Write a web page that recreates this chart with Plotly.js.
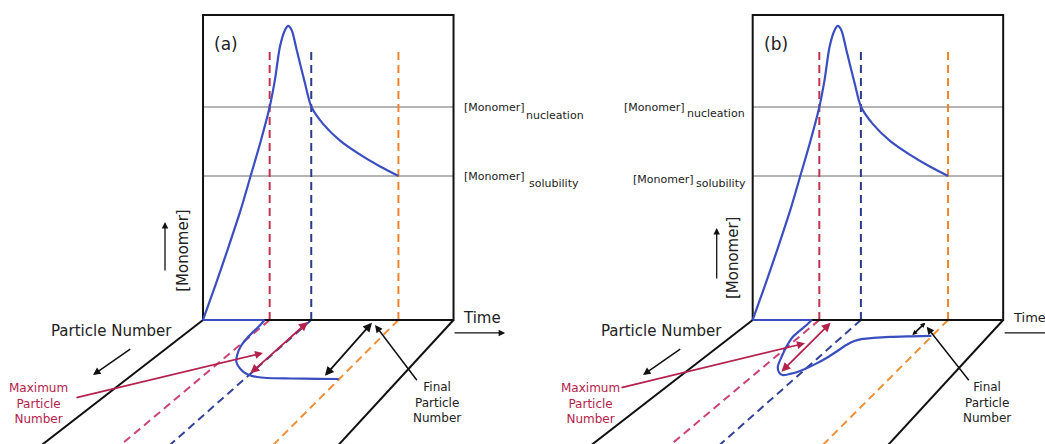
<!DOCTYPE html>
<html><head><meta charset="utf-8">
<script src="https://cdn.plot.ly/plotly-3.0.1.min.js"></script>
<style>html,body{margin:0;padding:0;background:#fff}#chart{width:1045px;height:444px}</style>
</head><body><div id="chart"></div>
<script>
// ================= DATA =================
// Monomer concentration vs time (box units: time 0..10, [Monomer] 0..10)
const monomerTime = [0, 0.5, 1.0, 1.5, 1.9, 2.3, 2.66, 2.87, 3.07, 3.27, 3.4, 3.54, 3.74, 4.07, 4.33, 4.8, 5.47, 6.27, 7.07, 7.8];
const monomerConc = [0, 1.15, 2.35, 3.6, 4.72, 5.85, 6.98, 7.87, 8.96, 9.5, 9.64, 9.5, 8.85, 7.76, 6.98, 6.42, 5.88, 5.42, 5.03, 4.72];
const monomerNucleation = 6.98;
const monomerSolubility = 4.72;
const dashTop = 8.85;
// event times: nucleation start, nucleation end, end of growth
const eventTimes = [2.66, 4.32, 7.8];
const eventColors = ['#c0344f', '#2e3a8c', '#f0842c'];
const floorEventColors = ['#cc4470', '#34429a', '#f0903a'];

// Particle number vs time on the floor (time, particle number 0..10)
const particleTimeA = [0, 2.45, 2.52, 2.56, 2.62, 2.75, 3.0, 3.3, 3.65, 4.0, 4.35, 4.7, 5.1, 6.0, 7.0, 7.78];
const particleNumA  = [0, 0, 0.35, 0.85, 1.45, 2.1, 2.8, 3.4, 3.85, 4.2, 4.45, 4.6, 4.68, 4.72, 4.75, 4.76];
const particleTimeB = [0, 2.36, 2.39, 2.41, 2.62, 2.89, 3.19, 3.5, 3.72, 3.95, 4.16, 4.33, 4.5, 4.64, 4.75, 4.85, 4.99, 5.22, 5.6, 6.2, 7.0, 7.77];
const particleNumB  = [0, 0, 0.4, 1.34, 2.15, 2.96, 3.77, 4.25, 4.44, 4.35, 4.17, 3.9, 3.5, 3.06, 2.56, 2.02, 1.7, 1.53, 1.45, 1.37, 1.32, 1.28];

// Max / final particle number markers (time, particle number) : [start, end]
const maxArrowA_t = [4.27, 4.3],  maxArrowA_n = [0.05, 4.3];
const finArrowA_t = [6.85, 7.15], finArrowA_n = [0.1, 4.5];
const maxArrowB_t = [3.23, 3.54], maxArrowB_n = [0.1, 4.17];
const finArrowB_t = [7.0, 7.0],   finArrowB_n = [0.1, 1.22];

// ================= PROJECTION (oblique floor) =================
const FLOOR_DEPTH = 4.066;
function fx(t, n) { return t + (n / 10) * (-6.387 + 0.183 * t); }
function fy(n) { return -(n / 10) * FLOOR_DEPTH; }

const FONT = 'DejaVu Sans, Verdana, sans-serif';
const CURVE = '#3a4ec0';
const CRIMSON = '#b4224c';

function panelTraces(xa, ya, pT, pN) {
  const tr = [];
  const L = (x, y, color, width, dash, shape) => tr.push({
    type: 'scatter', mode: 'lines', x: x, y: y, xaxis: xa, yaxis: ya,
    hoverinfo: 'skip',
    line: {color: color, width: width, dash: dash || 'solid', shape: shape || 'linear', smoothing: 0.8}
  });
  // level lines
  L([0, 10], [monomerNucleation, monomerNucleation], '#9c9c9c', 1.5);
  L([0, 10], [monomerSolubility, monomerSolubility], '#9c9c9c', 1.5);
  // floor side rails
  [0, 10].forEach(t => L([fx(t, 0), fx(t, 10.6)], [fy(0), fy(10.6)], '#111', 2));
  // event dashed lines (vertical + floor)
  eventTimes.forEach((t, i) => {
    L([t, t], [0, dashTop], eventColors[i], 2, '8px,5px');
    L([fx(t, 0), fx(t, 10.6)], [fy(0), fy(10.6)], floorEventColors[i], 2, '8px,5px');
  });
  // box
  L([0, 10, 10, 0, 0], [0, 0, 10, 10, 0], '#111', 2);
  // monomer curve
  L(monomerTime, monomerConc, CURVE, 2.2, 'solid', 'spline');
  // particle number curve on floor: flat part (no particles yet) + spline part
  const px = pT.map((t, i) => fx(t, pN[i])), py = pN.map(n => fy(n));
  L(px.slice(0, 2), py.slice(0, 2), CURVE, 2.2);
  L(px.slice(1), py.slice(1), CURVE, 2.2, 'solid', 'spline');
  return tr;
}

const traces = [].concat(
  panelTraces('x', 'y', particleTimeA, particleNumA),
  panelTraces('x2', 'y2', particleTimeB, particleNumB)
);

const ann = [];
function txt(xr, yr, x, y, text, size, opts) {
  ann.push(Object.assign({xref: xr, yref: yr, x: x, y: y, text: text, showarrow: false,
    xanchor: 'center', yanchor: 'middle', font: {family: FONT, size: size, color: '#222'}}, opts || {}));
}
function arr(xr, yr, x0, y0, x1, y1, color, width, both, size) {
  ann.push({xref: xr, yref: yr, axref: xr, ayref: yr, x: x1, y: y1, ax: x0, ay: y0, text: '',
    showarrow: true, arrowhead: 2, arrowsize: size || 1, arrowwidth: width, arrowcolor: color,
    arrowside: both ? 'end+start' : 'end', startarrowhead: 2, startarrowsize: size || 1,
    standoff: 0, startstandoff: 0});
}
function floorArrow(xr, yr, tt, nn, color, size) {
  arr(xr, yr, fx(tt[0], nn[0]), fy(nn[0]), fx(tt[1], nn[1]), fy(nn[1]), color, 1.8, true, size);
}

// ---- panel (a) ----
txt('x', 'y', 0.92, 9.05, '(a)', 17);
txt('x', 'y', 10.33, 6.95, '[Monomer]', 11, {xanchor: 'left'});
txt('x', 'y', 12.83, 6.70, 'nucleation', 11, {xanchor: 'left'});
txt('x', 'y', 10.35, 4.70, '[Monomer]', 11, {xanchor: 'left'});
txt('x', 'y', 12.92, 4.49, 'solubility', 11, {xanchor: 'left'});
txt('x', 'y', -0.80, 2.30, '[Monomer]', 15, {textangle: -90});
arr('x', 'y', -1.517, 1.574, -1.517, 3.213, '#111', 1.3);
txt('x', 'y', 10.29, 0.07, 'Time', 15, {xanchor: 'left'});
arr('x', 'y', 9.98, -0.426, 12.06, -0.426, '#111', 1.3);
txt('x', 'y', -3.653, -0.36, 'Particle Number', 15);
arr('x', 'y', -2.846, -0.918, -4.391, -1.803, '#111', 1.5);
txt('x', 'y', -6.587, -2.738, 'Maximum<br>Particle<br>Number', 12, {font: {family: FONT, size: 12, color: CRIMSON}});
arr('x', 'y', -5.11, -2.557, 2.395, -1.082, CRIMSON, 1.6);
txt('x', 'y', 9.341, -2.705, 'Final<br>Particle<br>Number', 12);
arr('x', 'y', 8.583, -2.023, 6.866, -0.164, '#111', 1.5);
floorArrow('x', 'y', maxArrowA_t, maxArrowA_n, CRIMSON);
floorArrow('x', 'y', finArrowA_t, finArrowA_n, '#111');

// ---- panel (b) ----
txt('x2', 'y2', 0.93, 9.05, '(b)', 17);
txt('x2', 'y2', -2.635, 6.967, '[Monomer]', 11, {xanchor: 'right'});
txt('x2', 'y2', -0.24, 6.754, 'nucleation', 11, {xanchor: 'right'});
txt('x2', 'y2', -2.263, 4.59, '[Monomer]', 11, {xanchor: 'right'});
txt('x2', 'y2', -0.188, 4.46, 'solubility', 11, {xanchor: 'right'});
txt('x2', 'y2', -0.786, 2.03, '[Monomer]', 15, {textangle: -90});
arr('x2', 'y2', -1.437, 1.311, -1.437, 3.016, '#111', 1.3);
txt('x2', 'y2', 10.33, 0.07, 'Time', 13, {xanchor: 'left'});
arr('x2', 'y2', 10.0, -0.426, 12.8, -0.426, '#111', 1.3);
txt('x2', 'y2', -3.64, -0.36, 'Particle Number', 15);
arr('x2', 'y2', -2.834, -0.918, -4.379, -1.803, '#111', 1.5);
txt('x2', 'y2', -6.495, -2.738, 'Maximum<br>Particle<br>Number', 12, {font: {family: FONT, size: 12, color: CRIMSON}});
arr('x2', 'y2', -5.297, -2.23, 2.088, -0.764, CRIMSON, 1.6);
txt('x2', 'y2', 9.373, -2.705, 'Final<br>Particle<br>Number', 12);
arr('x2', 'y2', 8.675, -2.023, 6.946, -0.22, '#111', 1.5);
floorArrow('x2', 'y2', maxArrowB_t, maxArrowB_n, CRIMSON);
floorArrow('x2', 'y2', finArrowB_t, finArrowB_n, '#111', 0.55);

const layout = {
  width: 1045, height: 444,
  margin: {l: 0, r: 0, t: 0, b: 0, pad: 0},
  paper_bgcolor: '#ffffff', plot_bgcolor: 'rgba(0,0,0,0)',
  showlegend: false,
  font: {family: FONT},
  xaxis: {range: [-8.104, 33.61], visible: false, fixedrange: true},
  yaxis: {range: [-4.066, 10.49], visible: false, fixedrange: true},
  xaxis2: {range: [-30.05, 11.67], visible: false, overlaying: 'x', anchor: 'y2', fixedrange: true},
  yaxis2: {range: [-4.066, 10.49], visible: false, overlaying: 'y', anchor: 'x2', fixedrange: true},
  annotations: ann
};
Plotly.newPlot('chart', traces, layout, {staticPlot: true, displayModeBar: false});
</script>
</body></html>
